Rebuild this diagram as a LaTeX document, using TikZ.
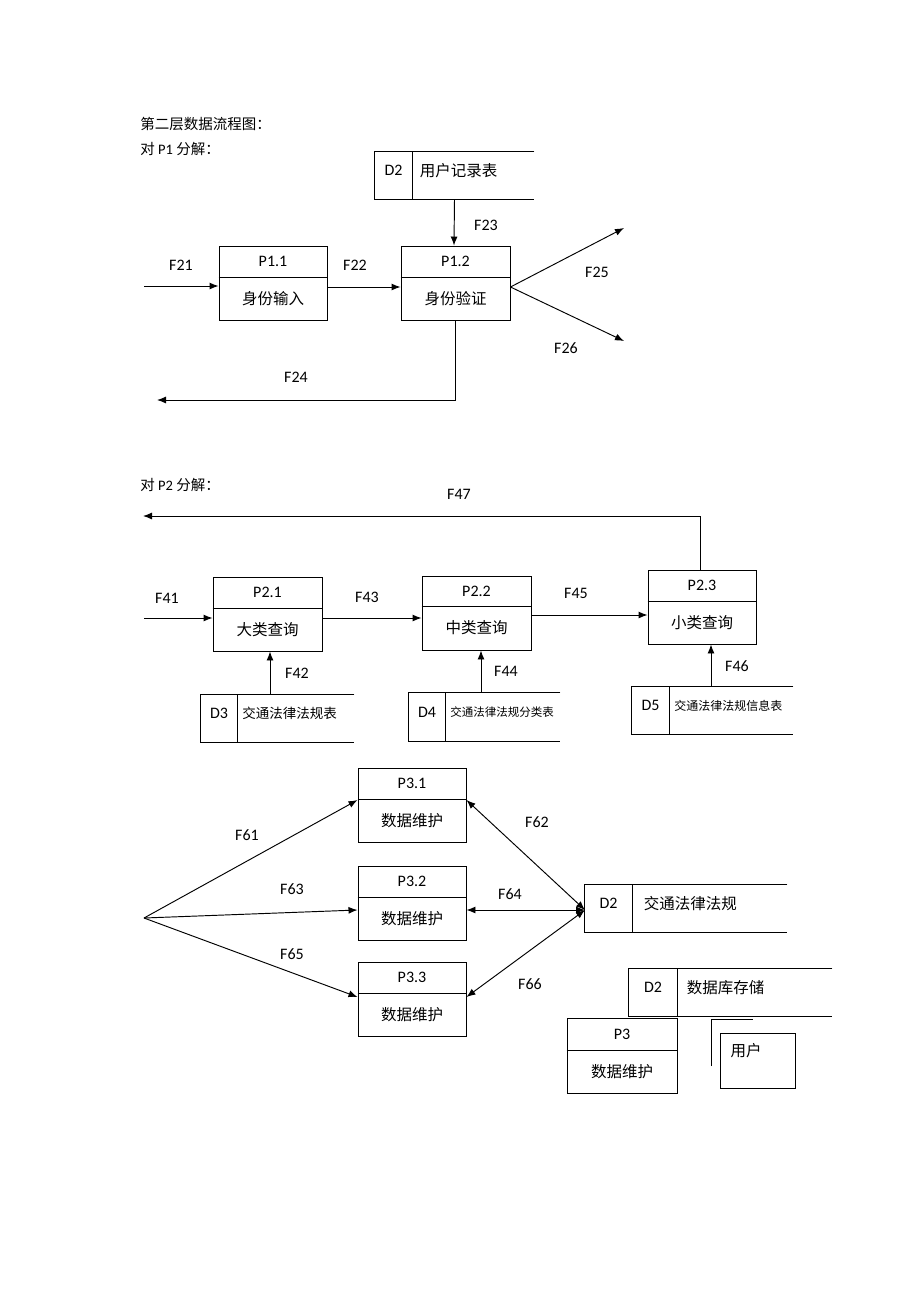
\documentclass[tikz,border=0pt]{standalone}
\usepackage{fontspec}
\setmainfont{Carlito}
\newfontfamily\cjk{Noto Sans CJK SC}
\usetikzlibrary{arrows.meta}
\newcommand\procbox[8]{%
  \pgfmathsetmacro\pbx{(#2+#3)/2}\pgfmathsetmacro\pby{(#4+#6)/2}%
  \pgfmathsetmacro\pbw{#3-#2}\pgfmathsetmacro\pbh{#6-#4}%
  \pgfmathsetmacro\pia{(#4+#5)/2}\pgfmathsetmacro\pib{(#5+#6)/2}%
  \node[proc, minimum width=\pbw pt, minimum height=\pbh pt] (#1) at (\pbx,\pby) {};
  \draw (#1.west |- 0,#5) -- (#1.east |- 0,#5);
  \node[lbl] (#1id) at (\pbx,\pia) {#7};
  \node[zh] (#1tx) at (\pbx,\pib) {#8};}
\newcommand\store[9]{%
  \pgfmathsetmacro\sx{(#2+#4)/2}\pgfmathsetmacro\sy{(#5+#6)/2}%
  \pgfmathsetmacro\sw{#4-#2}\pgfmathsetmacro\sh{#6-#5}%
  \pgfmathsetmacro\sidx{(#2+#3)/2}\pgfmathsetmacro\sty{(#5+#6)/2-5}%
  \node[minimum width=\sw pt, minimum height=\sh pt, inner sep=0pt] (#1) at (\sx,\sy) {};
  \draw (#1.north east) -- (#1.north west) -- (#1.south west) -- (#1.south east);
  \draw (#3,#5) -- (#3,#6);
  \node[lbl] (#1id) at (\sidx,\sty) {#7};
  \node[#9, anchor=west] (#1tx) at (#3+4,\sty) {#8};}
\begin{document}
\begin{tikzpicture}[x=1pt,y=-1pt, line width=0.95pt,
  >={Latex[length=9pt,width=7pt]},
  proc/.style={draw, inner sep=0pt},
  lbl/.style={font=\fontsize{16}{18}\selectfont},
  zh/.style={font=\cjk\fontsize{15.5}{18}\selectfont},
  zhs/.style={font=\cjk\fontsize{13.5}{16}\selectfont, inner sep=1pt},
  zhxs/.style={font=\cjk\fontsize{11.5}{14}\selectfont, inner sep=1pt},
  zhx/.style={font=\cjk\fontsize{12}{14}\selectfont, inner sep=1pt},
  head/.style={font=\cjk\fontsize{14.5}{17}\selectfont, anchor=west, inner sep=0pt}]
\useasboundingbox[fill=white] (0,0) rectangle (920,1302);

% headings
\node[head] (h1) at (140,124) {第二层数据流程图：};
\node[head] (h2) at (140,149) {对 {\fontspec{Carlito}P1} 分解：};
\node[head] (h3) at (140,485) {对 {\fontspec{Carlito}P2} 分解：};

% ---------- P1 ----------
\store{d2a}{375}{412}{534}{152}{199}{D2}{用户记录表}{zh}
\procbox{p11}{219}{327}{246}{277}{320}{P1.1}{身份输入}
\procbox{p12}{401}{510}{246}{277}{320}{P1.2}{身份验证}
\coordinate (f21s) at (144,286);
\coordinate (f25e) at (624,228);
\coordinate (f26e) at (624,341);
\coordinate (f24e) at (157,400);
\draw[->] (f21s) -- (f21s -| p11.west);
\draw[->] (p11.east |- 0,287) -- (p12.west |- 0,287);
\draw[->] (454,199 -| d2a.south) -- (454,199 |- p12.north);
\draw[->] (p12.east |- 0,287) -- (f25e);
\draw[->] (p12.east |- 0,287) -- (f26e);
\draw[->] (p12.south) |- (f24e);
\node[lbl] (f21) at (181,265) {F21};
\node[lbl] (f22) at (355,265) {F22};
\node[lbl] (f23) at (486,225) {F23};
\node[lbl] (f25) at (597,272) {F25};
\node[lbl] (f26) at (566,348) {F26};
\node[lbl] (f24) at (296,377) {F24};

% ---------- P2 ----------
\procbox{p21}{213}{322}{577}{608}{651}{P2.1}{大类查询}
\procbox{p22}{422}{531}{576}{606}{650}{P2.2}{中类查询}
\procbox{p23}{648}{756}{570}{601}{644}{P2.3}{小类查询}
\store{d3}{201}{237}{354}{695}{742}{D3}{交通法律法规表}{zhs}
\store{d4}{409}{445}{560}{693}{741}{D4}{交通法律法规分类表}{zhxs}
\store{d5}{632}{669}{793}{687}{734}{D5}{交通法律法规信息表}{zhx}
\coordinate (f41s) at (144,618);
\coordinate (f47e) at (143,516);
\draw[->] (f41s) -- (f41s -| p21.west);
\draw[->] (p21.east |- 0,618) -- (p22.west |- 0,618);
\draw[->] (p22.east |- 0,615) -- (p23.west |- 0,615);
\draw[->] (d3.north -| 270,0) -- (p21.south -| 270,0);
\draw[->] (d4.north -| 481,0) -- (p22.south -| 481,0);
\draw[->] (d5.north -| 711,0) -- (p23.south -| 711,0);
\draw[->] (p23.north -| 700,0) |- (f47e);
\node[lbl] (f41) at (167,598) {F41};
\node[lbl] (f43) at (367,597) {F43};
\node[lbl] (f45) at (576,593) {F45};
\node[lbl] (f42) at (297,673) {F42};
\node[lbl] (f44) at (506,671) {F44};
\node[lbl] (f46) at (737,666) {F46};
\node[lbl] (f47) at (459,494) {F47};

% ---------- P3 ----------
\procbox{p31}{358}{466}{768}{799}{842}{P3.1}{数据维护}
\procbox{p32}{358}{466}{866}{897}{940}{P3.2}{数据维护}
\procbox{p33}{358}{466}{962}{993}{1036}{P3.3}{数据维护}
\store{d2b}{585}{632}{787}{885}{932}{D2}{\hspace{4pt}交通法律法规}{zh}
\coordinate (src) at (144,918);
\coordinate (hub) at (585,910);
\draw[->] (src) -- (p31.west |- 0,800);
\draw[->] (src) -- (p32.west |- 0,910);
\draw[->] (src) -- (p33.west |- 0,997);
\draw[<->] (p31.east |- 0,800) -- (hub);
\draw[<->] (p32.east |- 0,910) -- (hub);
\draw[<->] (p33.east |- 0,997) -- (hub);
\node[lbl] (f61) at (247,835) {F61};
\node[lbl] (f63) at (292,889) {F63};
\node[lbl] (f65) at (292,954) {F65};
\node[lbl] (f62) at (537,822) {F62};
\node[lbl] (f64) at (510,894) {F64};
\node[lbl] (f66) at (530,984) {F66};

% ---------- legend ----------
\store{d2c}{629}{677}{832}{969}{1016}{D2}{\hspace{2pt}数据库存储}{zh}
\procbox{p3}{567}{677}{1018}{1050}{1093}{P3}{数据维护}
\node[proc, minimum width=75pt, minimum height=55pt] (user) at (757.5,1060.5) {};
\node[zh] (usertx) at (746,1051) {用户};
\coordinate (uc1) at (711,1066);
\coordinate (uc2) at (753,1019);
\draw (uc1) |- (uc2);
\end{tikzpicture}
\end{document}
